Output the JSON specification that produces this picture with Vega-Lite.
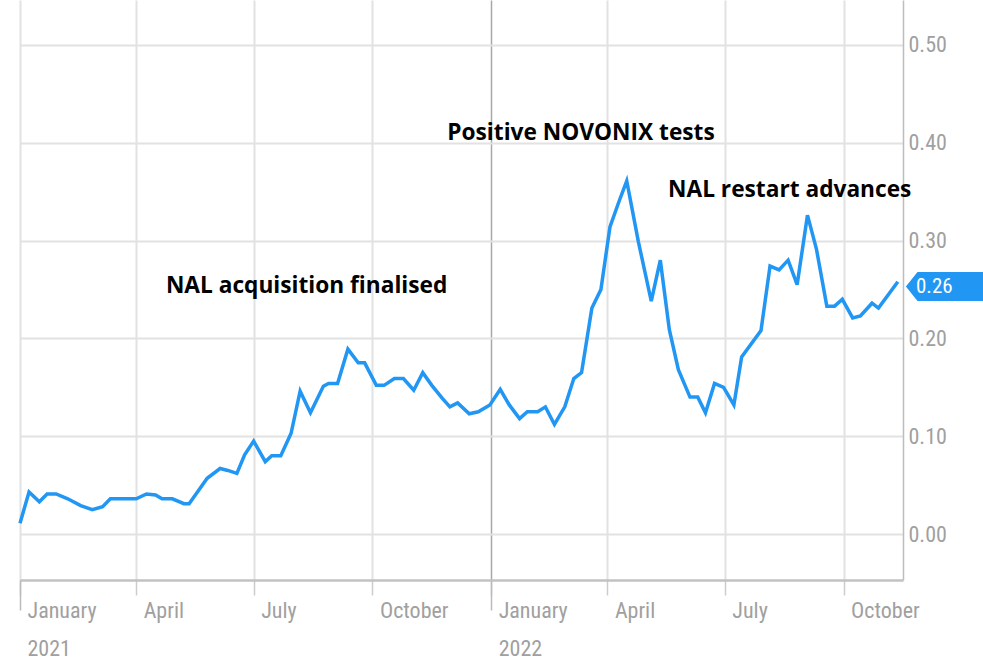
{
  "$schema": "https://vega.github.io/schema/vega-lite/v6.json",
  "width": 883,
  "height": 580,
  "autosize": {"type": "none"},
  "padding": {"left": 20, "top": 0, "right": 80, "bottom": 90},
  "background": "white",
  "config": {
    "view": {"stroke": null},
    "axis": {
      "labelFont": "Roboto Condensed, Roboto",
      "labelColor": "#a0a0a0",
      "labelFontSize": 22,
      "titleFont": "Roboto"
    }
  },
  "datasets": {
    "price": [
      {"date": "2021-01-01", "price": 0.011},
      {"date": "2021-01-08", "price": 0.043},
      {"date": "2021-01-16", "price": 0.033},
      {"date": "2021-01-22", "price": 0.041},
      {"date": "2021-01-29", "price": 0.041},
      {"date": "2021-02-07", "price": 0.036},
      {"date": "2021-02-17", "price": 0.029},
      {"date": "2021-02-26", "price": 0.025},
      {"date": "2021-03-06", "price": 0.028},
      {"date": "2021-03-12", "price": 0.036},
      {"date": "2021-04-01", "price": 0.036},
      {"date": "2021-04-09", "price": 0.041},
      {"date": "2021-04-16", "price": 0.040},
      {"date": "2021-04-21", "price": 0.036},
      {"date": "2021-04-29", "price": 0.036},
      {"date": "2021-05-08", "price": 0.031},
      {"date": "2021-05-12", "price": 0.031},
      {"date": "2021-05-26", "price": 0.057},
      {"date": "2021-06-05", "price": 0.067},
      {"date": "2021-06-11", "price": 0.065},
      {"date": "2021-06-18", "price": 0.062},
      {"date": "2021-06-24", "price": 0.081},
      {"date": "2021-07-01", "price": 0.095},
      {"date": "2021-07-10", "price": 0.074},
      {"date": "2021-07-15", "price": 0.080},
      {"date": "2021-07-22", "price": 0.080},
      {"date": "2021-07-30", "price": 0.103},
      {"date": "2021-08-06", "price": 0.146},
      {"date": "2021-08-14", "price": 0.124},
      {"date": "2021-08-24", "price": 0.151},
      {"date": "2021-08-28", "price": 0.154},
      {"date": "2021-09-04", "price": 0.154},
      {"date": "2021-09-12", "price": 0.189},
      {"date": "2021-09-20", "price": 0.175},
      {"date": "2021-09-25", "price": 0.175},
      {"date": "2021-10-04", "price": 0.152},
      {"date": "2021-10-10", "price": 0.152},
      {"date": "2021-10-18", "price": 0.159},
      {"date": "2021-10-25", "price": 0.159},
      {"date": "2021-11-02", "price": 0.147},
      {"date": "2021-11-09", "price": 0.165},
      {"date": "2021-11-16", "price": 0.152},
      {"date": "2021-11-24", "price": 0.139},
      {"date": "2021-11-30", "price": 0.130},
      {"date": "2021-12-06", "price": 0.134},
      {"date": "2021-12-15", "price": 0.123},
      {"date": "2021-12-22", "price": 0.125},
      {"date": "2021-12-31", "price": 0.132},
      {"date": "2022-01-08", "price": 0.148},
      {"date": "2022-01-15", "price": 0.132},
      {"date": "2022-01-23", "price": 0.118},
      {"date": "2022-01-29", "price": 0.125},
      {"date": "2022-02-06", "price": 0.125},
      {"date": "2022-02-12", "price": 0.130},
      {"date": "2022-02-19", "price": 0.112},
      {"date": "2022-02-27", "price": 0.130},
      {"date": "2022-03-06", "price": 0.159},
      {"date": "2022-03-12", "price": 0.165},
      {"date": "2022-03-20", "price": 0.231},
      {"date": "2022-03-27", "price": 0.250},
      {"date": "2022-04-03", "price": 0.314},
      {"date": "2022-04-10", "price": 0.340},
      {"date": "2022-04-16", "price": 0.361},
      {"date": "2022-04-25", "price": 0.299},
      {"date": "2022-05-05", "price": 0.238},
      {"date": "2022-05-12", "price": 0.280},
      {"date": "2022-05-19", "price": 0.209},
      {"date": "2022-05-26", "price": 0.168},
      {"date": "2022-06-04", "price": 0.140},
      {"date": "2022-06-10", "price": 0.140},
      {"date": "2022-06-16", "price": 0.124},
      {"date": "2022-06-23", "price": 0.154},
      {"date": "2022-06-30", "price": 0.150},
      {"date": "2022-07-08", "price": 0.132},
      {"date": "2022-07-14", "price": 0.181},
      {"date": "2022-07-29", "price": 0.208},
      {"date": "2022-08-05", "price": 0.274},
      {"date": "2022-08-12", "price": 0.270},
      {"date": "2022-08-19", "price": 0.280},
      {"date": "2022-08-26", "price": 0.255},
      {"date": "2022-09-03", "price": 0.326},
      {"date": "2022-09-10", "price": 0.291},
      {"date": "2022-09-18", "price": 0.233},
      {"date": "2022-09-24", "price": 0.233},
      {"date": "2022-09-30", "price": 0.240},
      {"date": "2022-10-08", "price": 0.221},
      {"date": "2022-10-14", "price": 0.223},
      {"date": "2022-10-23", "price": 0.236},
      {"date": "2022-10-28", "price": 0.231},
      {"date": "2022-11-12", "price": 0.258}
    ],
    "notes": [
      {"date": "2021-04-24", "value": 0.254, "label": "NAL acquisition finalised"},
      {"date": "2021-11-28", "value": 0.410, "label": "Positive NOVONIX tests"},
      {"date": "2022-05-18", "value": 0.352, "label": "NAL restart advances"}
    ],
    "last": [
      {"date": "2022-11-16", "value": 0.253, "label": "0.26"}
    ]
  },
  "resolve": {"scale": {"x": "shared", "y": "shared"}, "axis": {"x": "independent"}},
  "layer": [
    {
      "data": {"name": "price"},
      "mark": {"type": "line", "color": "#2196f3", "strokeWidth": 3.5, "strokeJoin": "miter", "interpolate": "linear"},
      "encoding": {
        "x": {
          "field": "date",
          "type": "temporal",
          "scale": {
            "type": "utc",
            "domain": [
              {"year": 2021, "month": 1, "date": 1, "utc": true},
              {"year": 2022, "month": 11, "date": 16, "utc": true}
            ]
          },
          "axis": {
            "orient": "bottom",
            "title": null,
            "values": [
              {"year": 2021, "month": 1, "date": 1, "utc": true},
              {"year": 2021, "month": 4, "date": 1, "utc": true},
              {"year": 2021, "month": 7, "date": 1, "utc": true},
              {"year": 2021, "month": 10, "date": 1, "utc": true},
              {"year": 2022, "month": 1, "date": 1, "utc": true},
              {"year": 2022, "month": 4, "date": 1, "utc": true},
              {"year": 2022, "month": 7, "date": 1, "utc": true},
              {"year": 2022, "month": 10, "date": 1, "utc": true}
            ],
            "labelExpr": "utcmonth(datum.value) == 0 ? [utcFormat(datum.value, '%B'), utcFormat(datum.value, '%Y')] : utcFormat(datum.value, '%B')",
            "labelAlign": "left",
            "labelBaseline": "top",
            "labelOffset": 7,
            "labelPadding": 5,
            "labelLineHeight": 38,
            "labelFlush": false,
            "labelOverlap": false,
            "ticks": true,
            "tickSize": 15,
            "tickColor": "#cccccc",
            "tickWidth": 1.5,
            "domain": true,
            "domainColor": "#c2c2c2",
            "domainWidth": 2.5,
            "grid": true,
            "gridColor": {"condition": {"test": "utcyear(datum.value) == 2022 && utcmonth(datum.value) == 0", "value": "#a8a8a8"}, "value": "#e2e2e2"},
            "gridWidth": {"condition": {"test": "utcyear(datum.value) == 2022 && utcmonth(datum.value) == 0", "value": 1.5}, "value": 2}
          }
        },
        "y": {
          "field": "price",
          "type": "quantitative",
          "scale": {"domain": [-0.047, 0.546], "nice": false, "zero": false},
          "axis": {
            "orient": "right",
            "title": null,
            "values": [0, 0.1, 0.2, 0.3, 0.4, 0.5],
            "format": ".2f",
            "ticks": false,
            "labelPadding": 5,
            "labelAlign": "left",
            "labelBaseline": "middle",
            "domain": true,
            "domainColor": "#bdbdbd",
            "domainWidth": 1.5,
            "grid": true,
            "gridColor": "#e2e2e2",
            "gridWidth": 2
          }
        }
      }
    },
    {
      "data": {"name": "notes"},
      "mark": {"type": "text", "font": "Open Sans", "fontWeight": "bold", "fontSize": 22.7, "align": "left", "baseline": "middle", "color": "#000000"},
      "encoding": {
        "x": {
          "field": "date",
          "type": "temporal",
          "axis": {
            "orient": "bottom",
            "title": null,
            "values": [
              {"year": 2021, "month": 1, "date": 1, "utc": true},
              {"year": 2022, "month": 1, "date": 1, "utc": true}
            ],
            "labels": false,
            "domain": false,
            "grid": false,
            "ticks": true,
            "tickSize": 30,
            "tickColor": "#bbbbbb",
            "tickWidth": 1.5
          }
        },
        "y": {"field": "value", "type": "quantitative"},
        "text": {"field": "label"}
      }
    },
    {
      "data": {"name": "last"},
      "mark": {"type": "point", "shape": "M0.2,0 L1,-1 L12,-1 L12,1 L1,1 Z", "filled": true, "size": 841, "color": "#2196f3", "opacity": 1, "strokeWidth": 0},
      "encoding": {
        "x": {"field": "date", "type": "temporal", "axis": null},
        "y": {"field": "value", "type": "quantitative"}
      }
    },
    {
      "data": {"name": "last"},
      "mark": {"type": "text", "font": "Roboto Condensed, Roboto", "fontSize": 21, "align": "left", "baseline": "middle", "dx": 13, "color": "white"},
      "encoding": {
        "x": {"field": "date", "type": "temporal", "axis": null},
        "y": {"field": "value", "type": "quantitative"},
        "text": {"field": "label"}
      }
    }
  ]
}
